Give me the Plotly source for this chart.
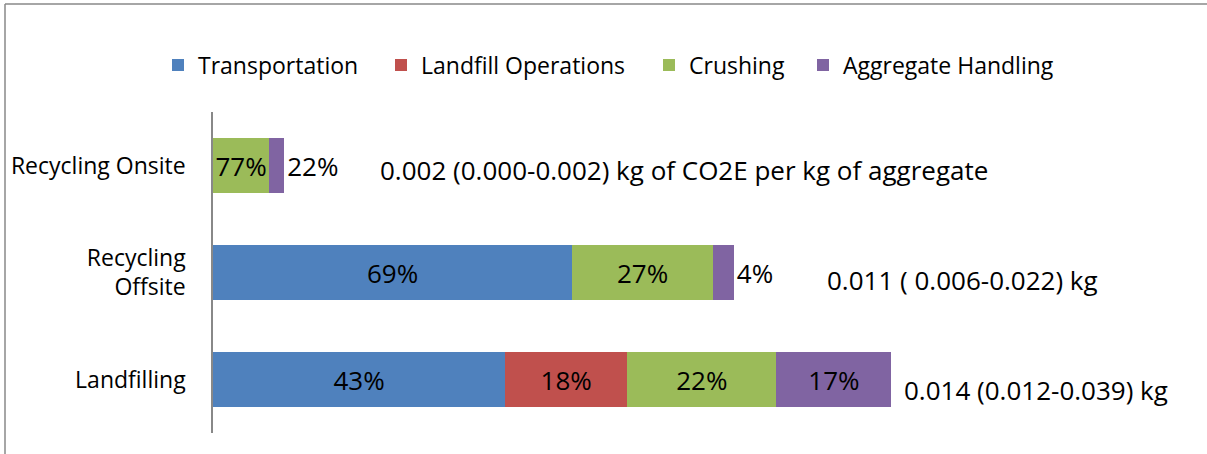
import plotly.graph_objects as go

# ---------------- data ----------------
categories = ["Landfilling", "Recycling<br>Offsite", "Recycling Onsite"]
series_names = ["Transportation", "Landfill Operations", "Crushing", "Aggregate Handling"]
series_colors = ["#4F81BD", "#C0504D", "#9BBB59", "#8064A2"]

# kg CO2E per kg of aggregate, per stage
transportation = [0.00603, 0.00741, 0.0]
landfill_ops = [0.00252, 0.0, 0.0]
crushing = [0.00308, 0.00291, 0.00116]
aggregate_handling = [0.00237, 0.00043, 0.00031]

# percentage labels shown on the bars
transportation_pct = ["43%", "69%", ""]
landfill_ops_pct = ["18%", "", ""]
crushing_pct = ["22%", "27%", "77%"]
aggregate_handling_pct = ["17%", "4%", "22%"]

total_labels = [
    "0.014 (0.012-0.039) kg",
    "0.011 ( 0.006-0.022) kg",
    "0.002 (0.000-0.002) kg of CO2E per kg of aggregate",
]

x_range = [0, 0.02]

# ---------------- figure ----------------
FONT = "'Open Sans', Lato, sans-serif"
FS_TICK = 23
FS_LEG = 23
FS_LAB = 26
W, H = 1207, 454
ML, MR, MT, MB = 213, 25, 112, 21
PW, PH = W - ML - MR, H - MT - MB

values = [transportation, landfill_ops, crushing, aggregate_handling]
texts = [transportation_pct, landfill_ops_pct, crushing_pct, aggregate_handling_pct]
positions = [
    ["inside"] * 3,
    ["inside"] * 3,
    ["inside"] * 3,
    ["inside", "outside", "outside"],
]
legend_ids = ["legend", "legend2", "legend3", "legend4"]
legend_left_px = [158, 381, 649, 803]   # left edge of each legend entry

fig = go.Figure()
for name, col, vals, txt, pos, lg in zip(series_names, series_colors, values, texts,
                                          positions, legend_ids):
    fig.add_trace(go.Bar(
        y=categories, x=vals, name=name, orientation="h", legend=lg,
        marker=dict(color=col, line=dict(width=0)),
        text=txt, textposition=pos, insidetextanchor="middle",
        textfont=dict(family=FONT, size=FS_LAB, color="black"),
        insidetextfont=dict(family=FONT, size=FS_LAB, color="black"),
        outsidetextfont=dict(family=FONT, size=FS_LAB, color="black"),
        cliponaxis=False, hoverinfo="skip",
    ))

totals = [sum(v) for v in zip(*values)]
xshifts = [11, 91, 94]
yshifts = [-10, -7, -4]
for cat, tot, lab, xs, ys in zip(categories, totals, total_labels, xshifts, yshifts):
    fig.add_annotation(x=tot, y=cat, text=lab, showarrow=False, xanchor="left",
                       xshift=xs, yshift=ys,
                       font=dict(family=FONT, size=FS_LAB, color="black"))

# outer frame (top and left edges, as in the cropped reference)
def px_x(px):
    return (px - ML) / PW

def px_y(py):
    return (H - MB - py) / PH

frame = dict(color="#888888", width=1.5)
fig.add_shape(type="line", xref="paper", yref="paper",
              x0=px_x(5), x1=px_x(W + 5), y0=px_y(4), y1=px_y(4), line=frame)
fig.add_shape(type="line", xref="paper", yref="paper",
              x0=px_x(5), x1=px_x(5), y0=px_y(4), y1=px_y(H + 5), line=frame)

legend_layout = {}
for lg, lx in zip(legend_ids, legend_left_px):
    legend_layout[lg] = dict(
        orientation="h", xref="container", yref="container",
        x=lx / W, y=1 - 65 / H, xanchor="left", yanchor="middle",
        font=dict(family=FONT, size=FS_LEG, color="black"),
        itemwidth=30, bgcolor="rgba(0,0,0,0)",
    )

fig.update_layout(
    width=W, height=H,
    margin=dict(l=ML, r=MR, t=MT, b=MB, pad=0, autoexpand=False),
    barmode="stack", bargap=0.486,
    paper_bgcolor="white", plot_bgcolor="white",
    font=dict(family=FONT, size=FS_TICK, color="black"),
    uniformtext=dict(minsize=FS_LAB, mode="show"),
    showlegend=True,
    xaxis=dict(range=x_range, visible=False, showgrid=False, zeroline=False),
    yaxis=dict(showline=True, linecolor="#888888", linewidth=1.5,
               ticks="", showgrid=False, zeroline=False, automargin=False,
               ticklabelstandoff=21,
               tickfont=dict(family=FONT, size=FS_TICK, color="black")),
    **legend_layout,
)

fig.write_html("out.html", config={"displayModeBar": False},
               post_script="document.body.style.margin='0';")
